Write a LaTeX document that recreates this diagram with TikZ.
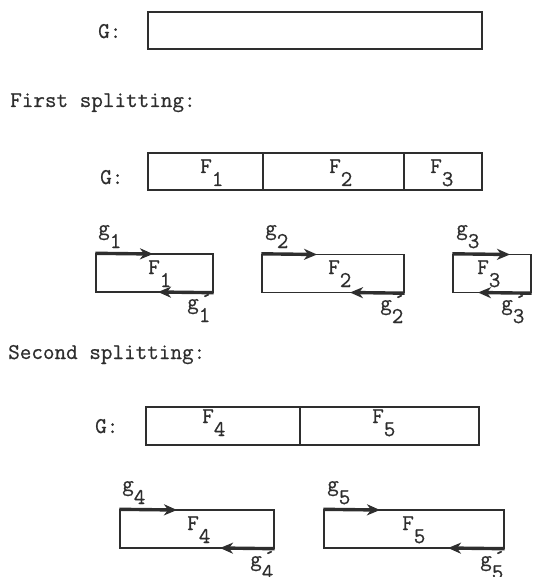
\documentclass[tikz,border=0pt]{standalone}
\usepackage{fontspec}
\setmonofont{Latin Modern Mono}[FakeBold=0.6]
\usetikzlibrary{arrows.meta}
\definecolor{ink}{HTML}{2E2E2E}
\newcommand\lowd[1]{\raisebox{-13pt}{#1}}
\newcommand\gpr[1]{g\rlap{\raisebox{1pt}{\kern2pt\textasciiacute}}\lowd{#1}}
\tikzset{
  box/.style={draw=ink, line width=1.4pt, rectangle, inner sep=0pt},
  lbl/.style={anchor=base west, inner sep=0pt, text=ink, font=\ttfamily\fontsize{22.5}{26}\selectfont},
  garrow/.style={draw=ink, line width=3.4pt, -{Stealth[length=13pt,width=11pt,inset=4pt]}},
}
\begin{document}
\begin{tikzpicture}[x=1pt,y=-1pt]
\useasboundingbox (0,0) rectangle (533,577);
% --- G (whole)
\node[lbl] (G1) at (98,38) {G:};
\node[box, minimum width=334pt, minimum height=37pt] (Ga) at (315,30.5) {};
% --- First splitting
\node[lbl] (t1) at (10,107) {First splitting:};
\node[lbl] (G2) at (100,184) {G:};
\node[box, minimum width=115pt, minimum height=37pt] (c1) at (205.5,171.5) {};
\node[box, minimum width=141pt, minimum height=37pt] (c2) at (333.5,171.5) {};
\node[box, minimum width=78pt, minimum height=37pt] (c3) at (443,171.5) {};
\node[lbl] (cF1) at (200,173) {F\lowd{1}};
\node[lbl] (cF2) at (329,173) {F\lowd{2}};
\node[lbl] (cF3) at (430,173) {F\lowd{3}};
% small boxes row 1
\node[box, minimum width=117pt, minimum height=38pt] (b1) at (154.5,273) {};
\node[box, minimum width=142pt, minimum height=38pt] (b2) at (333,273.5) {};
\node[box, minimum width=78pt, minimum height=38pt] (b3) at (492,273.5) {};
\coordinate (t1e) at (153,254);
\coordinate (t2e) at (317,254.5);
\coordinate (t3e) at (510,254.5);
\coordinate (u1e) at (158,292);
\coordinate (u2e) at (350,292.5);
\coordinate (u3e) at (478,292.5);
\draw[garrow] (b1.north west) -- (t1e);
\draw[garrow] (b2.north west) -- (t2e);
\draw[garrow] (b3.north west) -- (t3e);
\draw[garrow] (b1.south east) -- (u1e);
\draw[garrow] (b2.south east) -- (u2e);
\draw[garrow] (b3.south east) -- (u3e);
\node[lbl] (g1) at (98,235) {g\lowd{1}};
\node[lbl] (g2) at (265,235) {g\lowd{2}};
\node[lbl] (g3) at (456,235) {g\lowd{3}};
\node[lbl] (bF1) at (148,274) {F\lowd{1}};
\node[lbl] (bF2) at (328,274) {F\lowd{2}};
\node[lbl] (bF3) at (477,274) {F\lowd{3}};
\node[lbl] (h1) at (187,309) {\gpr{1}};
\node[lbl] (h2) at (380,310) {\gpr{2}};
\node[lbl] (h3) at (501,310) {\gpr{3}};
% --- Second splitting
\node[lbl] (t2) at (8,359) {Second splitting:};
\node[lbl] (G3) at (95,433) {G:};
\node[box, minimum width=154pt, minimum height=38pt] (c4) at (223,426) {};
\node[box, minimum width=179pt, minimum height=38pt] (c5) at (389.5,426) {};
\node[lbl] (cF4) at (202,423) {F\lowd{4}};
\node[lbl] (cF5) at (372,423) {F\lowd{5}};
% small boxes row 2
\node[box, minimum width=154pt, minimum height=38pt] (b4) at (197,529) {};
\node[box, minimum width=180pt, minimum height=38pt] (b5) at (414,529) {};
\coordinate (t4e) at (177,510);
\coordinate (t5e) at (380,510);
\coordinate (u4e) at (220,548);
\coordinate (u5e) at (448,548);
\draw[garrow] (b4.north west) -- (t4e);
\draw[garrow] (b5.north west) -- (t5e);
\draw[garrow] (b4.south east) -- (u4e);
\draw[garrow] (b5.south east) -- (u5e);
\node[lbl] (g4) at (122,491) {g\lowd{4}};
\node[lbl] (g5) at (327,491) {g\lowd{5}};
\node[lbl] (bF4) at (187,530) {F\lowd{4}};
\node[lbl] (bF5) at (402,530) {F\lowd{5}};
\node[lbl] (h4) at (250,566) {\gpr{4}};
\node[lbl] (h5) at (480,566) {\gpr{5}};
\end{tikzpicture}
\end{document}
